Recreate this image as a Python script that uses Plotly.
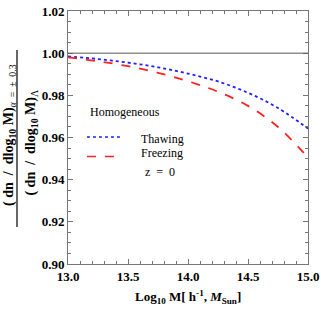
import plotly.graph_objects as go

log_m = [13.0, 13.25, 13.5, 13.75, 14.0, 14.25, 14.5, 14.75, 15.0]
thawing = [0.9985, 0.9972, 0.9955, 0.9933, 0.9903, 0.9866, 0.9812, 0.9740, 0.9642]
freezing = [0.9980, 0.9962, 0.9938, 0.9907, 0.9867, 0.9817, 0.9750, 0.9650, 0.9505]
x_ticks = [13.0, 13.5, 14.0, 14.5, 15.0]
y_ticks = [0.90, 0.92, 0.94, 0.96, 0.98, 1.00, 1.02]

SERIF = "Liberation Serif"
BLUE = "#1f1fff"
RED = "#ff2020"

fig = go.Figure()
fig.add_trace(go.Scatter(x=log_m, y=thawing, mode="lines", name="Thawing", showlegend=False,
                         line=dict(color=BLUE, width=1.8, dash="dot", shape="spline")))
fig.add_trace(go.Scatter(x=log_m, y=freezing, mode="lines", name="Freezing", showlegend=False,
                         line=dict(color=RED, width=1.8, dash="dash", shape="spline")))

fig.add_hline(y=1.0, line=dict(color="#555555", width=1))

axis_common = dict(showline=True, linecolor="#777777", linewidth=1, mirror="ticks",
                   ticks="inside", ticklen=5, tickcolor="#777777", showgrid=False, zeroline=False,
                   automargin=False,
                   tickfont=dict(family=SERIF, size=13, color="black", weight="bold"))

fig.update_xaxes(range=[13.0, 15.0], tickvals=x_ticks, ticktext=[f"{v:.1f}" for v in x_ticks],
                 minor=dict(dtick=0.1, ticks="inside", ticklen=3, tickcolor="#777777"),
                 **axis_common)
fig.update_yaxes(range=[0.90, 1.02], tickvals=y_ticks, ticktext=[f"{v:.2f}" for v in y_ticks],
                 minor=dict(dtick=0.005, ticks="inside", ticklen=3, tickcolor="#777777"),
                 **axis_common)

fig.update_layout(
    width=321, height=332,
    margin=dict(l=68, r=13, t=11, b=68, autoexpand=False),
    paper_bgcolor="white", plot_bgcolor="white",
    font=dict(family=SERIF, color="black"),
    showlegend=False,
)

# legend (drawn manually to match compact spacing)
fig.add_annotation(xref="paper", yref="paper", x=0.2375, y=0.601, text="Homogeneous", showarrow=False,
                   font=dict(family=SERIF, size=12), xanchor="center", yanchor="middle")
fig.add_shape(type="line", xref="paper", yref="paper", x0=0.079, x1=0.229, y0=0.502, y1=0.502,
              line=dict(color=BLUE, width=1.6, dash="dot"))
fig.add_annotation(xref="paper", yref="paper", x=0.296, y=0.495, text="Thawing", showarrow=False,
                   font=dict(family=SERIF, size=12), xanchor="left", yanchor="middle")
fig.add_shape(type="line", xref="paper", yref="paper", x0=0.079, x1=0.229, y0=0.425, y1=0.425,
              line=dict(color=RED, width=1.6, dash="dash"))
fig.add_annotation(xref="paper", yref="paper", x=0.296, y=0.437, text="Freezing", showarrow=False,
                   font=dict(family=SERIF, size=12), xanchor="left", yanchor="middle")
fig.add_annotation(xref="paper", yref="paper", x=0.383, y=0.364, text="z  =  0", showarrow=False,
                   font=dict(family=SERIF, size=12), xanchor="center", yanchor="middle")

# y-axis title as a fraction
fig.add_annotation(xref="paper", yref="paper", x=-0.242, y=0.51, textangle=-90, showarrow=False,
                   text="<b>( dn  /  dlog<sub>10</sub> M)</b><sub><i>α</i>  =  ±  0.3</sub>",
                   font=dict(family=SERIF, size=14), xanchor="center", yanchor="middle")
fig.add_annotation(xref="paper", yref="paper", x=-0.15, y=0.48, textangle=-90, showarrow=False,
                   text="<b>( dn  /  dlog<sub>10</sub> M)</b><sub>Λ</sub>",
                   font=dict(family=SERIF, size=14), xanchor="center", yanchor="middle")
fig.add_shape(type="line", xref="paper", yref="paper", x0=-0.2125, x1=-0.2125, y0=0.146, y1=0.846,
              line=dict(color="black", width=1.2))

fig.add_annotation(xref="paper", yref="paper", x=0.5, y=-0.13, showarrow=False,
                   text="<b>Log<sub>10</sub> M[ h<sup>-1</sup>, <i>M</i><sub>Sun</sub>]</b>",
                   font=dict(family=SERIF, size=13), xanchor="center", yanchor="middle")

fig.write_html("out.html", config={"displayModeBar": False},
               post_script="document.body.style.margin='0';")
